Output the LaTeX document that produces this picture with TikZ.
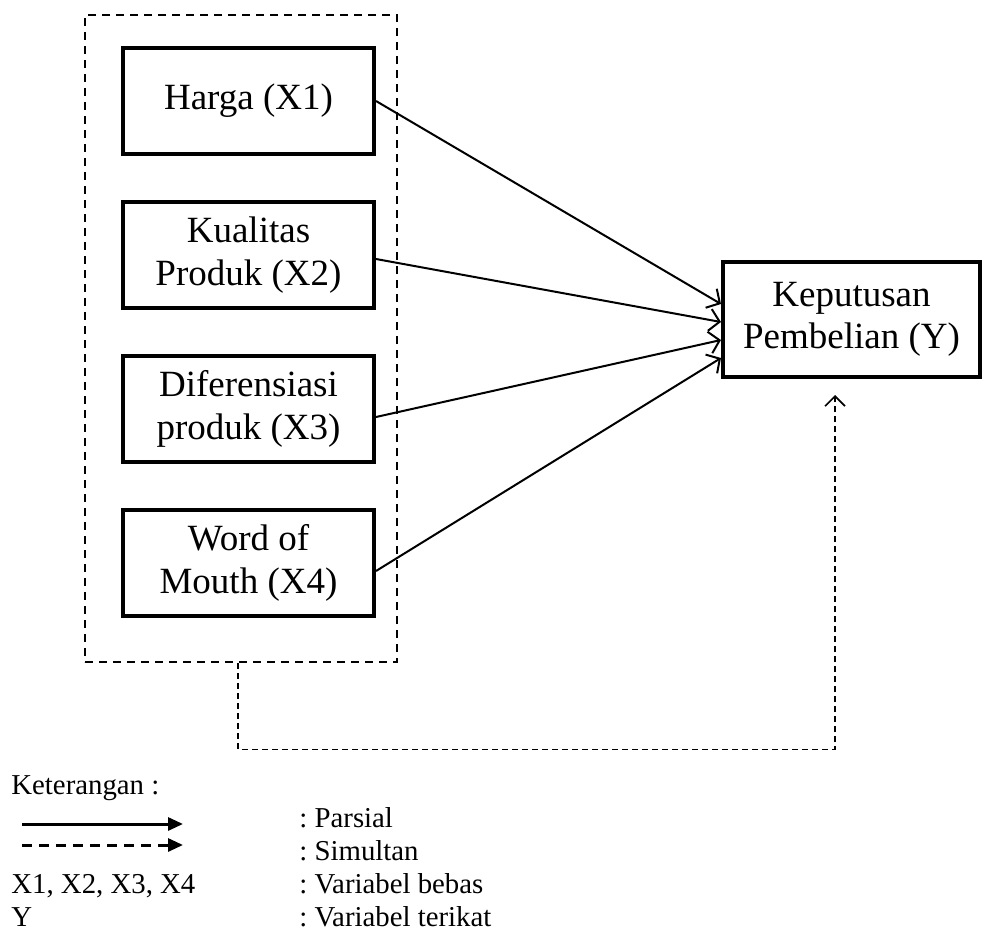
\documentclass[tikz,border=0pt]{standalone}
\usepackage{fontspec}
\setmainfont{Liberation Serif}
\usetikzlibrary{arrows.meta}
\frenchspacing

\begin{document}
\begin{tikzpicture}[x=0.5pt,y=-0.5pt,
    varbox/.style={draw,line width=2pt,minimum width=125.5pt,minimum height=53pt,
        align=center,inner sep=0pt,font=\fontsize{18.5}{21.3}\selectfont},
    groupbox/.style={draw,line width=1.4pt,dash pattern=on 4pt off 3pt,
        minimum width=156pt,minimum height=323.5pt,inner sep=0pt},
    parsial/.style={line width=1pt,-{Straight Barb[length=5pt,width=11pt]}},
    simultan/.style={line width=0.8pt,dash pattern=on 3pt off 2pt,
        -{Straight Barb[length=5pt,width=10pt]}},
    legtext/.style={anchor=base west,inner sep=0pt,font=\fontsize{14.4}{16.5}\selectfont},
    legarrow/.style={line width=1.5pt,-{Triangle[length=7.5pt,width=6.5pt]}}]
    \useasboundingbox (0,0) rectangle (986,932);
    % Draw dashed group around the independent variables
    \node[groupbox] (grp) at (241,338.5) {};
    % Draw variable boxes
    \node[varbox] (hrg) at (248.5,101) {Harga (X1)};
    \node[varbox] (kp) at (248.5,255) {Kualitas\\Produk (X2)};
    \node[varbox] (dp) at (248.5,409) {Diferensiasi\\produk (X3)};
    \node[varbox] (wom) at (248.5,563) {Word of\\Mouth (X4)};
    \node[varbox,minimum width=128.5pt,minimum height=57.5pt] (kpb) at (851.5,319.5) {Keputusan\\Pembelian (Y)};
    % Draw partial arrows
    \draw[parsial] (hrg.east) -- ([yshift=7.75pt]kpb.west);
    \draw[parsial] ([yshift=-2pt]kp.east) -- ([yshift=-1.25pt]kpb.west);
    \draw[parsial] ([yshift=-4pt]dp.east) -- ([yshift=-10.25pt]kpb.west);
    \draw[parsial] ([yshift=-4pt]wom.east) -- ([yshift=-19.25pt]kpb.west);
    % Draw simultaneous arrow
    \draw[simultan] ([xshift=-1.5pt]grp.south) -- ++(0,86) -| ([xshift=-8.25pt,yshift=-8pt]kpb.south);
    % Draw legend
    \node[legtext] (ket) at (11,794) {Keterangan :};
    \coordinate (pa) at (22,824);
    \coordinate (pb) at (183,824);
    \coordinate (sa) at (22,845);
    \coordinate (sb) at (183,845);
    \draw[legarrow] (pa) -- (pb);
    \draw[legarrow,dash pattern=on 5pt off 3.5pt] (sa) -- (sb);
    \node[legtext] (lpar) at (299,827) {: Parsial};
    \node[legtext] (lsim) at (299,860) {: Simultan};
    \node[legtext] (lx) at (11,893) {X1, X2, X3, X4};
    \node[legtext] (lbebas) at (299,893) {: Variabel bebas};
    \node[legtext] (ly) at (11,926) {Y};
    \node[legtext] (lterikat) at (299,926) {: Variabel terikat};
\end{tikzpicture}
\end{document}
